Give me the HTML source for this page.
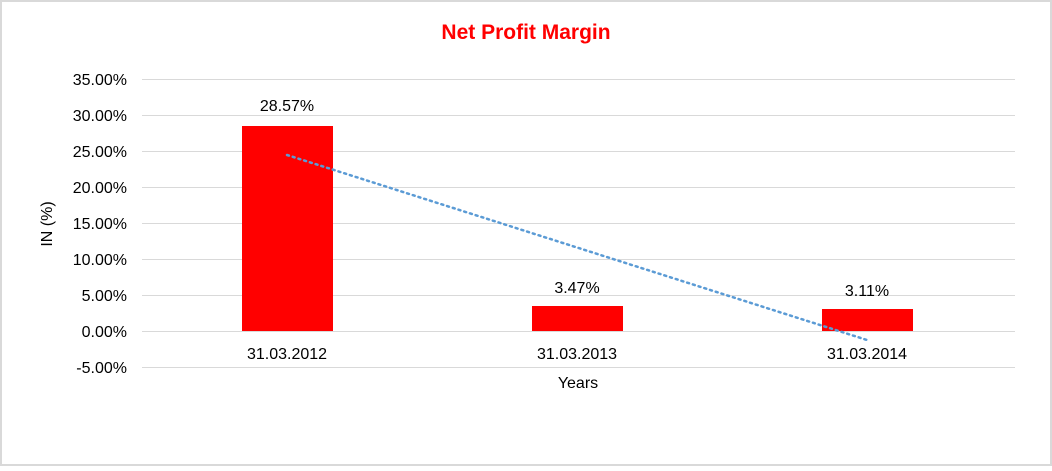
<!DOCTYPE html>
<html><head><style>
html,body{margin:0;padding:0;background:#fff}
</style></head><body>
<svg width="1052" height="466" xmlns="http://www.w3.org/2000/svg" font-family="Liberation Sans, Arial, sans-serif">
<rect x="1" y="1" width="1050" height="464" fill="#fff" stroke="#d9d9d9" stroke-width="2"/>
<text x="526" y="39" text-anchor="middle" font-size="21" font-weight="bold" fill="#ff0000">Net Profit Margin</text>
<g stroke="#d9d9d9" stroke-width="1">
<line x1="142" x2="1015" y1="79.5" y2="79.5"/>
<line x1="142" x2="1015" y1="115.5" y2="115.5"/>
<line x1="142" x2="1015" y1="151.5" y2="151.5"/>
<line x1="142" x2="1015" y1="187.5" y2="187.5"/>
<line x1="142" x2="1015" y1="223.5" y2="223.5"/>
<line x1="142" x2="1015" y1="259.5" y2="259.5"/>
<line x1="142" x2="1015" y1="295.5" y2="295.5"/>
<line x1="142" x2="1015" y1="331.5" y2="331.5"/>
<line x1="142" x2="1015" y1="367.5" y2="367.5"/>
</g>
<g font-size="16" fill="#000" text-anchor="end">
<text x="127" y="85">35.00%</text>
<text x="127" y="121">30.00%</text>
<text x="127" y="157">25.00%</text>
<text x="127" y="193">20.00%</text>
<text x="127" y="229">15.00%</text>
<text x="127" y="265">10.00%</text>
<text x="127" y="301">5.00%</text>
<text x="127" y="337">0.00%</text>
<text x="127" y="373">-5.00%</text>
</g>
<g fill="#ff0000">
<rect x="242" y="126" width="91" height="205"/>
<rect x="532" y="306" width="91" height="25"/>
<rect x="822" y="309" width="91" height="22"/>
</g>
<line x1="287" y1="155" x2="867" y2="340" stroke="#5b9bd5" stroke-width="2.5" stroke-dasharray="2 4" stroke-linecap="round"/>
<g font-size="16" fill="#000" text-anchor="middle">
<text x="287" y="111">28.57%</text>
<text x="577" y="293">3.47%</text>
<text x="867" y="296">3.11%</text>
<text x="287" y="359">31.03.2012</text>
<text x="577" y="359">31.03.2013</text>
<text x="867" y="359">31.03.2014</text>
<text x="578" y="388">Years</text>
</g>
<text transform="translate(52,224) rotate(-90)" font-size="16" text-anchor="middle">IN (%)</text>
</svg>
</body></html>
